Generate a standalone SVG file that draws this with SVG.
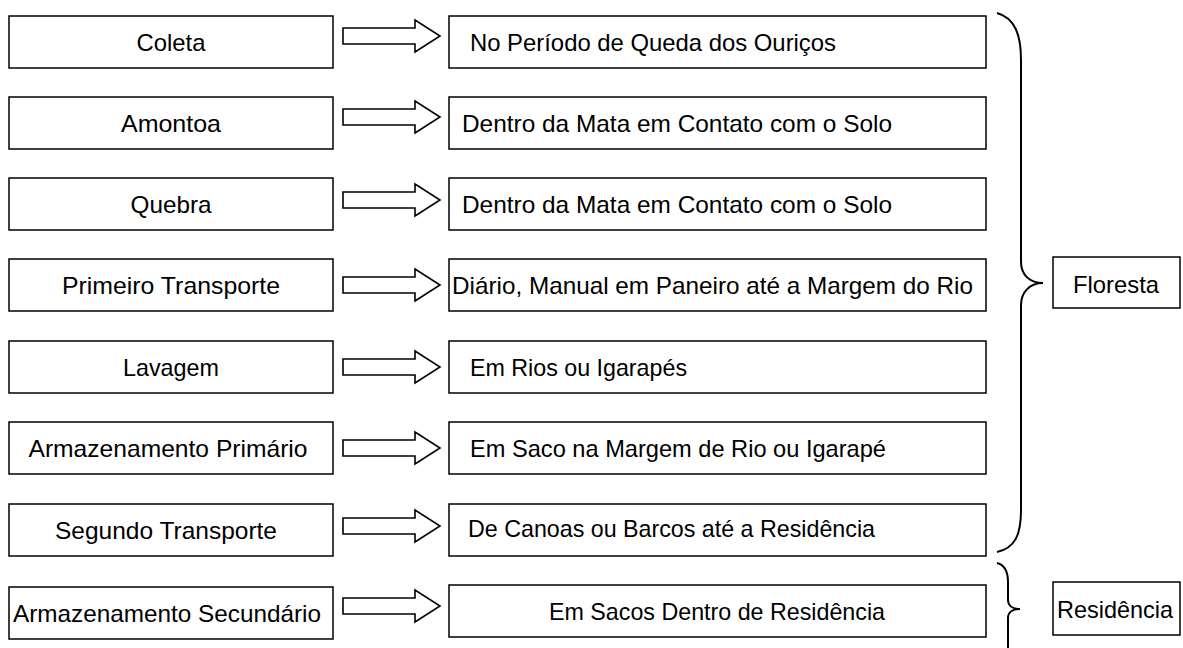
<svg xmlns="http://www.w3.org/2000/svg" width="1183" height="648" viewBox="0 0 1183 648">
<style>
.box{fill:#fff;stroke:#000;stroke-width:1.5}
.arr{fill:#fff;stroke:#000;stroke-width:1.6;stroke-linejoin:miter}
.brace{fill:none;stroke:#000;stroke-width:2}
text{font-family:"Liberation Sans",Arial,sans-serif;font-size:24px;fill:#000}
.c{text-anchor:middle}
</style>
<rect width="1183" height="648" fill="#fff"/>
<g id="n1"><rect class="box" x="9" y="16" width="324" height="52"/><text class="c" x="171" y="51" textLength="69" lengthAdjust="spacingAndGlyphs">Coleta</text></g>
<g id="n2"><rect class="box" x="9" y="97" width="324" height="52"/><text class="c" x="171" y="132" textLength="100" lengthAdjust="spacingAndGlyphs">Amontoa</text></g>
<g id="n3"><rect class="box" x="9" y="178" width="324" height="52"/><text class="c" x="171" y="213" textLength="81" lengthAdjust="spacingAndGlyphs">Quebra</text></g>
<g id="n4"><rect class="box" x="9" y="259" width="324" height="52"/><text class="c" x="171" y="294" textLength="218" lengthAdjust="spacingAndGlyphs">Primeiro Transporte</text></g>
<g id="n5"><rect class="box" x="9" y="341" width="324" height="52"/><text class="c" x="171" y="376" textLength="96" lengthAdjust="spacingAndGlyphs">Lavagem</text></g>
<g id="n6"><rect class="box" x="9" y="422" width="324" height="52"/><text class="c" x="168" y="457" textLength="279" lengthAdjust="spacingAndGlyphs">Armazenamento Primário</text></g>
<g id="n7"><rect class="box" x="9" y="504" width="324" height="52"/><text class="c" x="166" y="539" textLength="222" lengthAdjust="spacingAndGlyphs">Segundo Transporte</text></g>
<g id="n8"><rect class="box" x="9" y="587" width="324" height="52"/><text class="c" x="167" y="622" textLength="308" lengthAdjust="spacingAndGlyphs">Armazenamento Secundário</text></g>

<g id="d1"><rect class="box" x="449" y="16" width="537" height="52"/><text x="470" y="51" textLength="366" lengthAdjust="spacingAndGlyphs">No Período de Queda dos Ouriços</text></g>
<g id="d2"><rect class="box" x="449" y="97" width="537" height="52"/><text x="462" y="132" textLength="430" lengthAdjust="spacingAndGlyphs">Dentro da Mata em Contato com o Solo</text></g>
<g id="d3"><rect class="box" x="449" y="178" width="537" height="52"/><text x="462" y="213" textLength="430" lengthAdjust="spacingAndGlyphs">Dentro da Mata em Contato com o Solo</text></g>
<g id="d4"><rect class="box" x="449" y="259" width="537" height="52"/><text x="452" y="294" textLength="521" lengthAdjust="spacingAndGlyphs">Diário, Manual em Paneiro até a Margem do Rio</text></g>
<g id="d5"><rect class="box" x="449" y="341" width="537" height="52"/><text x="470" y="376" textLength="217" lengthAdjust="spacingAndGlyphs">Em Rios ou Igarapés</text></g>
<g id="d6"><rect class="box" x="449" y="422" width="537" height="52"/><text x="470" y="457" textLength="416" lengthAdjust="spacingAndGlyphs">Em Saco na Margem de Rio ou Igarapé</text></g>
<g id="d7"><rect class="box" x="449" y="504" width="537" height="52"/><text x="468" y="537" textLength="407" lengthAdjust="spacingAndGlyphs">De Canoas ou Barcos até a Residência</text></g>
<g id="d8"><rect class="box" x="449" y="585" width="537" height="52"/><text x="549" y="620" textLength="336" lengthAdjust="spacingAndGlyphs">Em Sacos Dentro de Residência</text></g>

<g id="floresta"><rect class="box" x="1053" y="257" width="127" height="51"/><text x="1073" y="293" textLength="86" lengthAdjust="spacingAndGlyphs">Floresta</text></g>
<g id="residencia"><rect class="box" x="1053" y="582" width="127" height="53"/><text x="1057" y="618" textLength="116" lengthAdjust="spacingAndGlyphs">Residência</text></g>

<g id="connectors">
<polygon class="arr" points="343,28 415,28 415,20 440,36 415,52 415,44 343,44"/>
<polygon class="arr" points="343,109 415,109 415,101 440,117 415,133 415,125 343,125"/>
<polygon class="arr" points="343,192 415,192 415,184 440,200 415,216 415,208 343,208"/>
<polygon class="arr" points="343,277 415,277 415,269 440,285 415,301 415,293 343,293"/>
<polygon class="arr" points="343,359 415,359 415,351 440,367 415,383 415,375 343,375"/>
<polygon class="arr" points="343,440 415,440 415,432 440,448 415,464 415,456 343,456"/>
<polygon class="arr" points="343,518 415,518 415,510 440,526 415,542 415,534 343,534"/>
<polygon class="arr" points="343,598 415,598 415,590 440,606 415,622 415,614 343,614"/>
<path class="brace" d="M997,13 C1015,18 1021,35 1021,60 L1021,262 C1021,275 1030,283 1043,283 C1030,283 1021,292 1021,305 L1021,510 C1021,535 1015,548 997,552"/>
<path class="brace" d="M997,563 C1005,565 1008,572 1008,582 L1008,600 C1008,606 1013,609 1020,609 C1013,609 1008,612 1008,618 L1008,648"/>
</g>
</svg>
